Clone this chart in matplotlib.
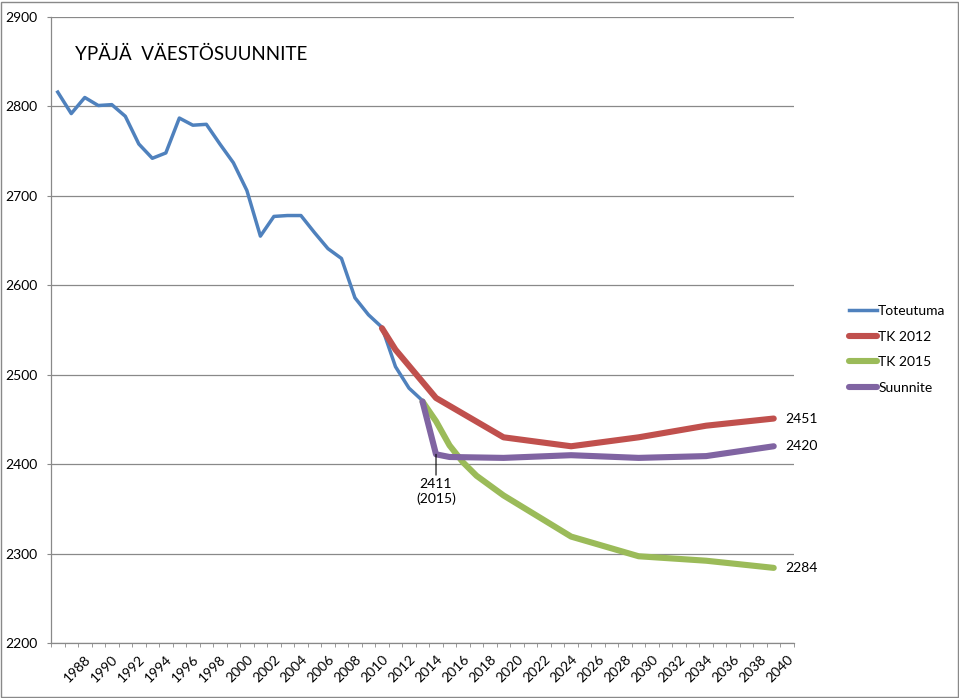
import numpy as np
import matplotlib
matplotlib.use("Agg")
import matplotlib.pyplot as plt
import matplotlib.transforms as mtransforms
from matplotlib.patches import Rectangle

plt.rcParams['font.family'] = ['Lato', 'DejaVu Sans']

# ---------------- data ----------------
tot_years = list(range(1987, 2015))
tot_vals = [2816, 2792, 2810, 2801, 2802, 2789, 2758, 2742, 2748, 2787,
            2779, 2780, 2758, 2737, 2706, 2655, 2677, 2678, 2678, 2659,
            2641, 2630, 2586, 2567, 2553, 2509, 2485, 2471]

tk12_years = [2011, 2012, 2015, 2020, 2025, 2030, 2035, 2040]
tk12_vals = [2552, 2528, 2474, 2430, 2420, 2430, 2443, 2451]

tk15_years = [2014, 2015, 2016, 2017, 2018, 2019, 2020, 2025, 2030, 2035, 2040]
tk15_vals = [2470, 2448, 2421, 2402, 2387, 2376, 2365, 2319, 2297, 2292, 2284]

suun_years = [2014, 2015, 2016, 2020, 2025, 2030, 2035, 2040]
suun_vals = [2470, 2411, 2408, 2407, 2410, 2407, 2409, 2420]

label_years = list(range(1988, 2041, 2))
y_ticks = list(range(2200, 2901, 100))

series_names = ["Toteutuma", "TK 2012", "TK 2015", "Suunnite"]
colors = ["#4F81BD", "#C0504D", "#9BBB59", "#8064A2"]

GRAY = "#898989"
FS = 10

# ---------------- figure ----------------
fig = plt.figure(figsize=(9.59, 6.98), dpi=100)
W, H = 959, 698
ax = fig.add_axes([51 / W, (H - 643) / H, 743 / W, (643 - 17) / H])

lines = []
l, = ax.plot(tot_years, tot_vals, color=colors[0], lw=2.5, solid_joinstyle='round')
lines.append(l)
for yrs, vals, c in [(tk12_years, tk12_vals, colors[1]),
                     (tk15_years, tk15_vals, colors[2]),
                     (suun_years, suun_vals, colors[3])]:
    l, = ax.plot(yrs, vals, color=c, lw=4.4, solid_capstyle='round',
                 solid_joinstyle='round')
    lines.append(l)

# axes styling (Excel-like)
ax.set_xlim(1986.5, 2041.5)
ax.set_ylim(2200, 2900)
ax.set_yticks(y_ticks)
ax.set_yticklabels([str(v) for v in y_ticks], fontsize=FS)
ax.grid(axis='y', color=GRAY, lw=0.9)
ax.set_axisbelow(True)
for s in ['top', 'right']:
    ax.spines[s].set_visible(False)
for s in ['left', 'bottom']:
    ax.spines[s].set_color(GRAY)
    ax.spines[s].set_linewidth(0.9)
ax.tick_params(axis='y', direction='out', length=3, color=GRAY, pad=7)

ax.set_xticks(label_years)
ax.set_xticklabels([str(y) for y in label_years], fontsize=FS, rotation=45,
                   ha='right', va='top', rotation_mode='anchor')
ax.tick_params(axis='x', which='major', length=0, pad=7)
ax.set_xticks(np.arange(1986.5, 2042, 1), minor=True)
ax.tick_params(axis='x', which='minor', direction='out', length=3, color=GRAY)
# category labels sit one category to the right (as in the source chart)
shift = mtransforms.ScaledTranslation(743 / 55 / 100, 0, fig.dpi_scale_trans)
for lab in ax.get_xticklabels():
    lab.set_transform(lab.get_transform() + shift)

# end labels
for yrs, vals in [(tk12_years, tk12_vals), (tk15_years, tk15_vals),
                  (suun_years, suun_vals)]:
    ax.annotate(str(vals[-1]), xy=(yrs[-1], vals[-1]), xytext=(8, 0),
                textcoords='offset points', va='center', ha='left', fontsize=FS)

# 2015 annotation
ax.annotate("2411\n(2015)", xy=(suun_years[1], suun_vals[1]), xytext=(0, -17),
            textcoords='offset points', ha='center', va='top', fontsize=FS,
            linespacing=1.25,
            arrowprops=dict(arrowstyle='-', color='black', lw=0.8,
                            shrinkA=0, shrinkB=0))

# title
fig.text(75 / W, 1 - 59.5 / H, "YPÄJÄ  VÄESTÖSUUNNITE", fontsize=13.5,
         va='baseline', ha='left')

# legend
fig.legend(lines, series_names, loc='upper left',
           bbox_to_anchor=(849 / W, 1 - 305 / H), frameon=False, fontsize=FS,
           handlelength=2.0, handletextpad=0.1, labelspacing=0.98,
           borderpad=0, borderaxespad=0)

# outer chart border
fig.patches.append(Rectangle((0.5 / W, 1.5 / H), 957 / W, 695 / H,
                             transform=fig.transFigure, fill=False,
                             ec=GRAY, lw=1))

fig.savefig("out.png", dpi=100)
